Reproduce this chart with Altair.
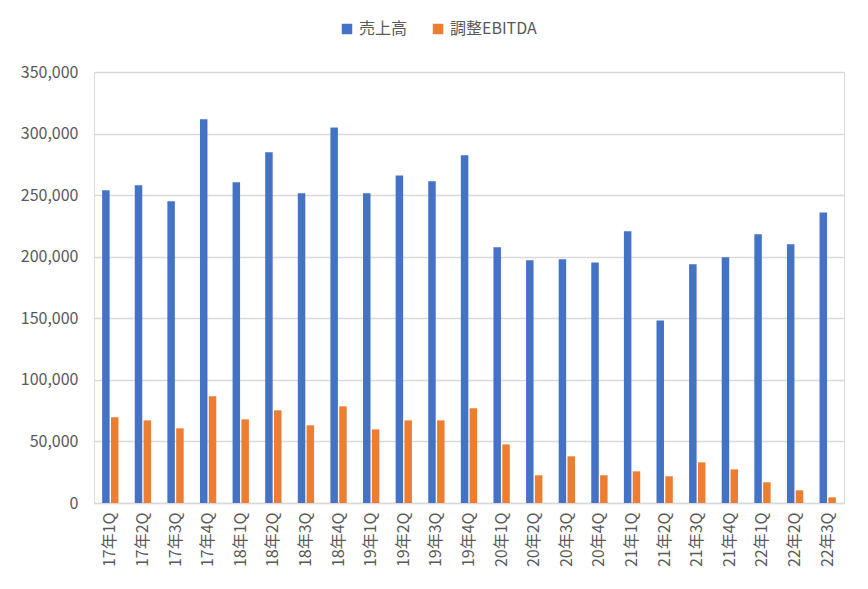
import altair as alt
import pandas as pd

quarters = ["17年1Q", "17年2Q", "17年3Q", "17年4Q", "18年1Q", "18年2Q", "18年3Q", "18年4Q",
            "19年1Q", "19年2Q", "19年3Q", "19年4Q", "20年1Q", "20年2Q", "20年3Q", "20年4Q",
            "21年1Q", "21年2Q", "21年3Q", "21年4Q", "22年1Q", "22年2Q", "22年3Q"]
sales = [253900, 258000, 245000, 311600, 260400, 284800, 251500, 305000,
         251500, 266000, 261200, 282300, 207600, 197100, 197900, 195400,
         220600, 148300, 193800, 199500, 218200, 210100, 236000]
ebitda = [69600, 67100, 60600, 86600, 67900, 75300, 63100, 78500,
          59800, 67100, 67100, 76900, 47600, 22500, 37900, 22500,
          25700, 21700, 33000, 27300, 16800, 10300, 4600]
series = ["売上高", "調整EBITDA"]
colors = ["#4472C4", "#ED7D31"]

rows = []
for q, s, e in zip(quarters, sales, ebitda):
    rows.append({"q": q, "series": series[0], "v": s})
    rows.append({"q": q, "series": series[1], "v": e})
df = pd.DataFrame(rows)

FONT = "Noto Sans CJK JP"

chart = alt.Chart(df).mark_bar().encode(
    x=alt.X("q:N", sort=quarters, title=None,
            scale=alt.Scale(paddingInner=0.5, paddingOuter=0.25),
            axis=alt.Axis(labelAngle=-90, labelFont=FONT, labelFontSize=16, labelColor="#595959",
                          ticks=False, domainColor="#D9D9D9", domainWidth=1.5, labelPadding=9,
                          labelBaseline="middle", labelAlign="right")),
    xOffset=alt.XOffset("series:N", sort=series, scale=alt.Scale(paddingInner=0.15)),
    y=alt.Y("v:Q", title=None,
            scale=alt.Scale(domain=[0, 350000]),
            axis=alt.Axis(values=list(range(0, 350001, 50000)), format=",.0f", labelFont=FONT,
                          labelFontSize=16, labelColor="#595959", ticks=False, domain=False,
                          gridColor="#D9D9D9", gridWidth=1.5, labelPadding=16)),
    color=alt.Color("series:N", sort=series,
                    scale=alt.Scale(domain=series, range=colors),
                    legend=alt.Legend(title=None, orient="none", legendX=245, legendY=-51,
                                      direction="horizontal",
                                      symbolType="square", symbolSize=110, symbolStrokeWidth=0,
                                      labelFont=FONT, labelFontSize=16, labelColor="#595959",
                                      columnPadding=22)),
).properties(
    width=750, height=431,
    padding={"left": 12, "top": 13, "right": 10, "bottom": 5},
).configure_view(stroke=None).configure(background="white")

chart.save("out.html", embed_options={"renderer": "svg", "actions": False})
